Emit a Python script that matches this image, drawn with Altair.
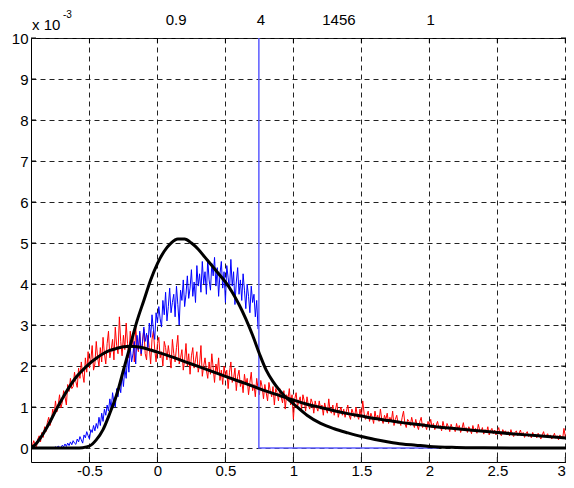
import altair as alt
import pandas as pd

# ---------------- data ----------------
red_x0, red_step = -0.92, 0.01
red_y = [
    0.05, 0.18, 0.08, 0.02, 0.22, 0.30, 0.15, 0.38, 0.26, 0.52,
    0.40, 0.62, 0.75, 0.55, 0.68, 0.95, 0.80, 1.15, 0.88, 1.05,
    1.30, 0.98, 1.12, 1.40, 1.25, 1.05, 1.55, 1.38, 1.70, 1.45,
    1.50, 1.85, 1.62, 1.48, 1.95, 1.70, 2.10, 1.80, 1.60, 2.20,
    1.85, 2.35, 1.95, 2.15, 2.50, 1.90, 2.05, 2.60, 2.20, 2.00,
    2.45, 2.10, 2.70, 2.30, 2.05, 2.55, 2.85, 2.20, 2.40, 2.65,
    2.15, 2.95, 2.50, 2.30, 3.20, 2.60, 2.25, 2.75, 2.40, 3.05,
    2.55, 2.20, 2.85, 2.45, 2.70, 2.10, 2.95, 2.50, 2.35, 2.80,
    2.25, 2.60, 2.90, 2.30, 2.15, 2.75, 2.45, 2.05, 2.65, 2.85,
    2.40, 2.10, 2.55, 2.70, 2.20, 2.35, 2.00, 2.60, 2.45, 2.15,
    2.50, 2.25, 1.95, 2.65, 2.30, 2.10, 2.45, 2.75, 2.05, 2.20,
    2.40, 1.90, 2.15, 2.55, 2.00, 2.30, 1.80, 2.25, 2.45, 1.95,
    2.15, 2.35, 1.85, 2.05, 2.50, 1.75, 2.00, 2.20, 1.90, 1.70,
    2.10, 1.80, 2.30, 1.95, 1.60, 2.05, 1.85, 2.20, 1.65, 1.90,
    1.55, 2.00, 1.75, 1.90, 1.45, 1.85, 2.10, 1.60, 1.70, 1.95,
    1.40, 1.75, 1.90, 1.50, 1.65, 1.35, 1.80, 1.55, 1.70, 1.30,
    1.60, 1.85, 1.40, 1.55, 1.25, 1.70, 1.45, 1.30, 1.65, 1.50,
    1.20, 1.55, 1.35, 1.15, 1.60, 1.40, 1.25, 1.50, 1.05, 1.45,
    1.35, 1.15, 1.45, 1.25, 1.10, 1.40, 0.95, 1.30, 1.20, 1.45,
    1.05, 1.30, 0.70, 1.20, 1.35, 1.00, 1.15, 1.25, 0.95, 1.30,
    1.15, 0.90, 1.25, 1.05, 0.95, 1.20, 1.10, 0.85, 1.15, 1.00,
    0.90, 1.15, 0.95, 1.05, 0.80, 1.10, 0.95, 0.85, 1.20, 0.90,
    0.85, 1.05, 0.80, 0.95, 1.10, 0.75, 0.90, 1.00, 0.80, 0.95,
    0.75, 0.90, 1.05, 0.80, 0.70, 0.95, 0.85, 0.75, 1.00, 0.80,
    0.70, 0.95, 0.75, 1.15, 0.85, 0.70, 0.80, 0.90, 0.65, 0.85,
    0.75, 0.60, 0.90, 0.70, 0.80, 0.65, 0.95, 0.70, 0.60, 0.80,
    0.70, 0.85, 0.60, 0.75, 0.65, 0.90, 0.55, 0.70, 0.80, 0.60,
    0.65, 0.55, 0.75, 0.90, 0.60, 0.50, 0.70, 0.65, 0.55, 0.75,
    0.60, 0.50, 0.70, 0.55, 0.45, 0.65, 0.75, 0.50, 0.60, 0.55,
    0.45, 0.65, 0.55, 0.70, 0.50, 0.60, 0.45, 0.55, 0.65, 0.50,
    0.55, 0.42, 0.65, 0.50, 0.45, 0.60, 0.52, 0.40, 0.58, 0.48,
    0.50, 0.40, 0.60, 0.45, 0.55, 0.38, 0.48, 0.62, 0.42, 0.50,
    0.38, 0.52, 0.45, 0.35, 0.55, 0.42, 0.48, 0.36, 0.58, 0.44,
    0.40, 0.50, 0.34, 0.45, 0.38, 0.52, 0.32, 0.42, 0.48, 0.35,
    0.44, 0.32, 0.40, 0.50, 0.35, 0.30, 0.45, 0.38, 0.42, 0.33,
    0.40, 0.30, 0.45, 0.34, 0.28, 0.38, 0.42, 0.30, 0.36, 0.44,
    0.30, 0.38, 0.26, 0.35, 0.40, 0.28, 0.33, 0.25, 0.38, 0.30,
    0.34, 0.25, 0.36, 0.30, 0.22, 0.32, 0.40, 0.27, 0.30, 0.35,
    0.26, 0.32, 0.22, 0.28, 0.36, 0.24, 0.30, 0.20, 0.32, 0.26,
    0.22, 0.48, 0.28, 0.20, 0.30,
]

blue_x0, blue_step = -0.78, 0.01
blue_y = [
    0.00, 0.01, 0.00, 0.03, 0.00, 0.05, 0.02, 0.00, 0.07, 0.03,
    0.10, 0.04, 0.12, 0.06, 0.15, 0.08, 0.18, 0.12, 0.09, 0.22,
    0.15, 0.28, 0.20, 0.12, 0.32, 0.25, 0.40, 0.30, 0.22, 0.45,
    0.38, 0.55, 0.42, 0.60, 0.48, 0.75, 0.55, 0.85, 0.65, 0.95,
    0.80, 1.05, 0.90, 1.20, 0.95, 1.35, 1.10, 1.00, 1.45, 1.25,
    1.55, 1.35, 1.80, 1.50, 1.95, 1.70, 2.25, 1.85, 2.45, 2.10,
    2.30, 2.60, 2.05, 2.75, 2.40, 2.85, 2.30, 2.55, 2.95, 2.60,
    2.80, 2.45, 3.05, 2.70, 3.25, 2.90, 2.65, 3.30, 3.05, 3.45,
    3.15, 2.95, 3.60, 3.25, 3.80, 3.10, 3.45, 3.90, 3.30, 3.55,
    3.75, 3.20, 3.95, 3.50, 3.00, 3.85, 3.60, 4.10, 3.45, 3.75,
    4.20, 3.65, 3.90, 4.35, 3.70, 4.05, 3.55, 4.45, 3.95, 4.25,
    3.80, 4.55, 4.00, 4.30, 3.75, 4.60, 4.10, 3.85, 4.50, 4.20,
    4.65, 3.95, 4.40, 3.70, 4.25, 4.55, 3.90, 4.30, 3.55, 4.45,
    4.15, 3.85, 4.60, 3.95, 4.30, 3.50, 4.05, 4.40, 3.75, 4.10,
    3.60, 4.25, 3.85, 3.40, 4.00, 3.70, 3.30, 3.95, 3.55, 3.75,
    3.20, 3.60, 2.90,
]

spike_x = [0.746, 0.746, 0.746, 2.07]
spike_y = [12.0, 0.0, 0.0, 0.0]

narrow_x = [-0.94, -0.6, -0.55, -0.5, -0.45, -0.4, -0.35, -0.3, -0.25, -0.2,
            -0.15, -0.1, -0.05, 0.0, 0.05, 0.1, 0.15, 0.2, 0.25, 0.3, 0.35,
            0.4, 0.45, 0.5, 0.55, 0.6, 0.65, 0.7, 0.75, 0.8, 0.85, 0.9, 0.95,
            1.0, 1.1, 1.2, 1.3, 1.4, 1.5, 1.6, 1.7, 1.8, 1.9, 2.0, 2.2, 2.4,
            2.6, 3.02]
narrow_y = [0.0, 0.0, 0.01, 0.05, 0.2, 0.45, 0.85, 1.3, 1.9, 2.5,
            3.1, 3.6, 4.1, 4.5, 4.8, 5.0, 5.1, 5.1, 5.0, 4.85, 4.65,
            4.45, 4.25, 4.05, 3.8, 3.5, 3.15, 2.75, 2.3, 1.9, 1.62, 1.4, 1.22,
            1.08, 0.8, 0.6, 0.47, 0.37, 0.28, 0.21, 0.15, 0.1, 0.07, 0.04, 0.015, 0.005,
            0.0, 0.0]

wide_x = [-0.94, -0.9, -0.85, -0.8, -0.75, -0.7, -0.65, -0.6, -0.55, -0.5,
          -0.45, -0.4, -0.35, -0.3, -0.25, -0.2, -0.15, -0.1, -0.05, 0.0,
          0.1, 0.2, 0.3, 0.4, 0.5, 0.6, 0.7, 0.8, 0.9, 1.0, 1.1, 1.2, 1.3,
          1.4, 1.5, 1.6, 1.7, 1.8, 1.9, 2.0, 2.2, 2.4, 2.6, 2.8, 3.02]
wide_y = [0.0, 0.08, 0.3, 0.58, 0.9, 1.2, 1.48, 1.72, 1.9, 2.06,
          2.19, 2.3, 2.38, 2.43, 2.47, 2.48, 2.47, 2.44, 2.39, 2.34,
          2.23, 2.11, 1.99, 1.87, 1.75, 1.63, 1.51, 1.39, 1.28, 1.17, 1.07, 0.99, 0.91,
          0.84, 0.78, 0.72, 0.67, 0.62, 0.58, 0.54, 0.47, 0.41, 0.35, 0.3, 0.24]

x_ticks = [-0.5, 0, 0.5, 1, 1.5, 2, 2.5, 3]
y_ticks = [0, 1, 2, 3, 4, 5, 6, 7, 8, 9, 10]

top_label_x = [0.137, 0.762, 1.335, 2.01]
top_label_text = ["0.9", "4", "1456", "1"]

# ---------------- layout ----------------
W, H = 535, 424
XDOM = [-0.93, 3.005]
YDOM = [-0.34, 10.0]
FONT = "Liberation Sans"
FS = 15

red_df = pd.DataFrame({"x": [red_x0 + i * red_step for i in range(len(red_y))], "y": red_y})
blue_df = pd.DataFrame({"x": [blue_x0 + i * blue_step for i in range(len(blue_y))], "y": blue_y})
spike_df = pd.DataFrame({"x": spike_x, "y": spike_y, "o": list(range(len(spike_x)))})
narrow_df = pd.DataFrame({"x": narrow_x, "y": narrow_y})
wide_df = pd.DataFrame({"x": wide_x, "y": wide_y})
xt_df = pd.DataFrame({"v": x_ticks})
yt_df = pd.DataFrame({"v": y_ticks})
top_df = pd.DataFrame({"x": top_label_x, "t": top_label_text})

xs = alt.Scale(domain=XDOM, nice=False, zero=False)
ys = alt.Scale(domain=YDOM, nice=False, zero=False)

xaxis = alt.Axis(values=x_ticks, labelExpr="'' + datum.value", grid=True,
                 gridDash=[5, 4], gridColor="#222", gridWidth=1, tickSize=0,
                 domain=False, labelFontSize=FS, labelFont=FONT, labelColor="#000",
                 labelPadding=1, title=None, labelFlush=3)
yaxis = alt.Axis(values=y_ticks, labelExpr="'' + datum.value", grid=True,
                 gridDash=[5, 4], gridColor="#222", gridWidth=1, tickSize=0,
                 domain=False, labelFontSize=FS, labelFont=FONT, labelColor="#000",
                 labelPadding=3, title=None, labelFlush=False)

base_x = alt.X("x:Q", scale=xs, axis=xaxis)
base_y = alt.Y("y:Q", scale=ys, axis=yaxis)

grid_layer = alt.Chart(red_df).mark_line(opacity=0).encode(x=base_x, y=base_y)

red = alt.Chart(red_df).mark_line(color="#ff0000", strokeWidth=1, clip=True).encode(
    x=alt.X("x:Q", scale=xs), y=alt.Y("y:Q", scale=ys))
blue = alt.Chart(blue_df).mark_line(color="#0000ff", strokeWidth=1, clip=True).encode(
    x=alt.X("x:Q", scale=xs), y=alt.Y("y:Q", scale=ys))
spike = alt.Chart(spike_df).mark_line(color="#5c5cff", strokeWidth=1.5, clip=True).encode(
    x=alt.X("x:Q", scale=xs), y=alt.Y("y:Q", scale=ys), order="o:Q")
wide = alt.Chart(wide_df).mark_line(color="#000", strokeWidth=3, clip=True, interpolate="monotone").encode(
    x=alt.X("x:Q", scale=xs), y=alt.Y("y:Q", scale=ys))
narrow = alt.Chart(narrow_df).mark_line(color="#000", strokeWidth=3, clip=True, interpolate="monotone").encode(
    x=alt.X("x:Q", scale=xs), y=alt.Y("y:Q", scale=ys))

tick_bottom = alt.Chart(xt_df).mark_rule(color="#000", strokeWidth=1).encode(
    x=alt.X("v:Q", scale=xs), y=alt.value(H), y2=alt.value(H - 5))
tick_top = alt.Chart(xt_df).mark_rule(color="#000", strokeWidth=1).encode(
    x=alt.X("v:Q", scale=xs), y=alt.value(0), y2=alt.value(5))
tick_left = alt.Chart(yt_df).mark_rule(color="#000", strokeWidth=1).encode(
    y=alt.Y("v:Q", scale=ys), x=alt.value(0), x2=alt.value(5))
tick_right = alt.Chart(yt_df).mark_rule(color="#000", strokeWidth=1).encode(
    y=alt.Y("v:Q", scale=ys), x=alt.value(W), x2=alt.value(W - 5))

top_text = alt.Chart(top_df).mark_text(font=FONT, fontSize=FS, color="#000",
                                       align="center", baseline="alphabetic").encode(
    x=alt.X("x:Q", scale=xs), y=alt.value(-13), text="t:N")

exp_base = alt.Chart(pd.DataFrame({"t": ["x 10"]})).mark_text(
    font=FONT, fontSize=FS, color="#000", align="left", baseline="alphabetic").encode(
    x=alt.value(1), y=alt.value(-8), text="t:N")
exp_sup = alt.Chart(pd.DataFrame({"t": ["-3"]})).mark_text(
    font=FONT, fontSize=10, color="#000", align="left", baseline="alphabetic").encode(
    x=alt.value(32), y=alt.value(-20), text="t:N")

chart = alt.layer(
    grid_layer, red, blue, spike, wide, narrow,
    tick_bottom, tick_top, tick_left, tick_right,
    top_text, exp_base, exp_sup,
).properties(
    width=W, height=H,
    autosize=alt.AutoSizeParams(type="none"),
    padding={"left": 23, "top": 30, "right": 0, "bottom": 18},
    background="#ffffff",
).configure_view(stroke="#000", strokeWidth=1)

chart.save("out.html", embed_options={"renderer": "svg", "actions": False})
